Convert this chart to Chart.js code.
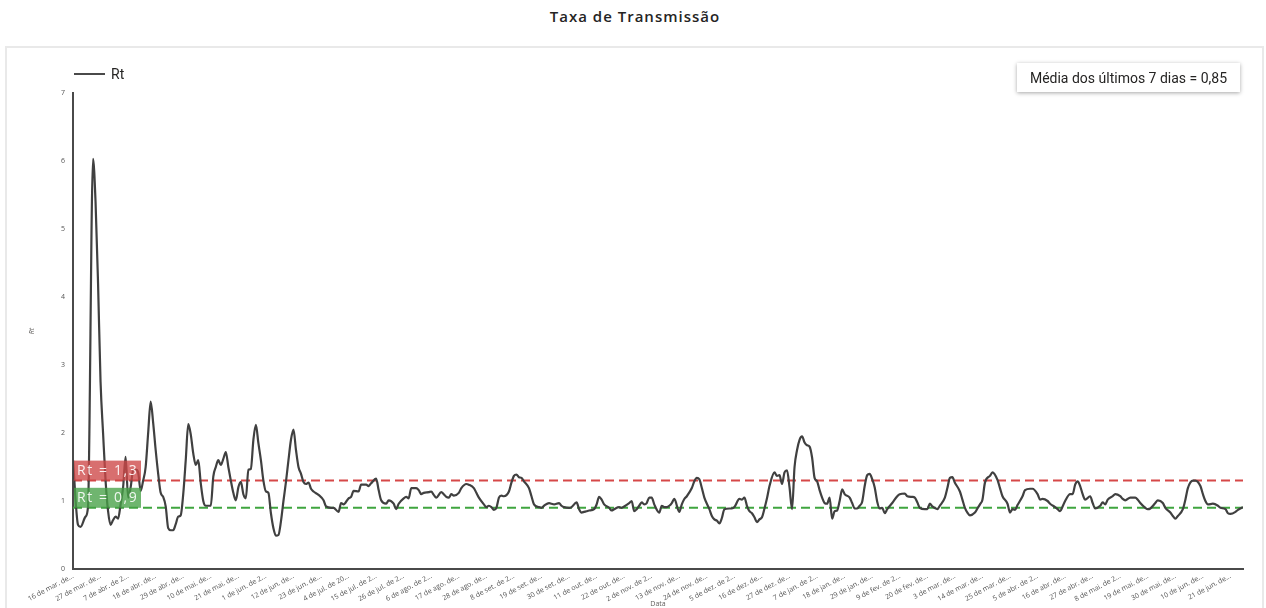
<!DOCTYPE html>
<html>
<head>
<meta charset="utf-8">
<script src="https://cdn.jsdelivr.net/npm/chart.js@4.4.1/dist/chart.umd.min.js"></script>
<style>
  html, body { margin: 0; padding: 0; background: #ffffff; }
  body { width: 1266px; height: 608px; position: relative; overflow: hidden; font-family: "Open Sans", "Noto Sans", sans-serif; }
  #title { position: absolute; left: 0; top: 6px; width: 1270px; text-align: center; font-size: 15px; font-weight: 600; color: #252423; letter-spacing: 1px; }
  #panel { position: absolute; left: 5px; top: 46px; width: 1259px; height: 600px; border: 2px solid #e9e9e9; box-sizing: border-box; }
  #wrap { position: absolute; left: 0; top: 0; width: 1266px; height: 608px; }
  #legend { position: absolute; left: 74px; top: 64px; height: 20px; display: flex; align-items: center; font-size: 14px; color: #252423; font-family: Roboto, "Open Sans", sans-serif; }
  #legend .sw { width: 31px; height: 0; border-top: 2.5px solid #4a4a4a; margin-right: 6px; }
  #media { position: absolute; left: 1017px; top: 63px; width: 223px; height: 29px; background: #fff; box-shadow: 0 1px 4px rgba(0,0,0,0.35); display: flex; align-items: center; justify-content: center; font-size: 14px; color: #252423; font-family: Roboto, "Open Sans", sans-serif; }
</style>
</head>
<body>
<div id="title">Taxa de Transmissão</div>
<div id="panel"></div>
<div id="wrap"><canvas id="c" width="1266" height="608"></canvas></div>
<div id="legend"><span class="sw"></span><span>Rt</span></div>
<div id="media">Média dos últimos 7 dias = 0,85</div>
<script>
// ---- data (day index from 16 de mar. de 2020) ----
const days = [0,2,3,5,6,8,9,10,11,12,13,14,15,16,17,18,19,20,21,22,23,24,25,26,27,28,29,30,31,32,33,34,35,36,37,38,39,40,41,42,43,44,45,46,47,48,49,50,51,52,53,54,55,56,57,58,59,60,61,62,63,64,65,66,67,68,69,70,71,72,73,74,75,76,77,78,79,80,81,82,83,84,85,86,87,88,89,90,91,92,93,94,95,96,98,100,101,103,104,106,107,108,110,111,112,114,115,117,118,119,121,122,123,125,126,128,129,130,132,133,134,135,137,138,139,140,142,143,144,145,147,148,149,150,151,152,154,155,157,158,160,161,162,164,165,166,167,168,169,170,171,172,174,175,176,177,178,179,180,182,183,184,186,187,188,190,191,192,194,195,196,198,199,201,202,203,204,205,206,208,209,210,211,212,214,215,216,218,219,220,222,223,224,225,226,227,228,229,230,231,232,234,235,236,237,238,239,240,242,243,244,245,247,248,249,250,251,252,254,255,256,257,258,259,260,262,263,264,266,267,268,269,270,271,272,273,274,275,276,277,278,280,281,282,283,284,285,286,287,288,289,290,291,292,293,294,295,296,297,298,299,300,301,302,303,304,305,306,307,308,310,311,312,313,314,315,316,317,318,319,320,321,322,323,324,325,327,329,330,332,333,335,336,337,338,340,341,342,343,345,346,348,349,350,351,352,354,355,356,357,358,360,361,362,363,364,366,367,369,370,371,373,374,375,376,377,379,380,382,383,385,386,387,389,390,392,393,394,395,396,398,399,400,401,402,403,404,406,407,408,410,411,412,413,415,416,418,419,420,422,424,425,426,428,429,430,432,433,435,436,438,439,440,441,443,444,445,447,448,450,451,452,453,455,457,458,460,461,462,464,465,467];
const rtValues = [1.60,0.65,0.62,0.77,0.92,6.03,5.40,4.20,2.75,2.00,1.30,0.85,0.65,0.72,0.77,0.74,0.95,1.20,1.65,1.05,1.20,1.45,1.46,1.42,1.15,1.30,1.50,2.00,2.46,2.15,1.75,1.40,1.12,1.06,0.92,0.60,0.57,0.57,0.66,0.77,0.79,1.10,1.60,2.13,1.98,1.70,1.53,1.60,1.26,1.00,0.93,0.93,0.93,1.36,1.50,1.60,1.53,1.62,1.72,1.50,1.30,1.12,1.01,1.20,1.28,1.10,1.04,1.46,1.47,1.90,2.12,1.85,1.60,1.30,1.14,1.12,0.82,0.60,0.49,0.50,0.70,1.00,1.28,1.60,1.90,2.05,1.75,1.50,1.40,1.28,1.25,1.27,1.18,1.14,1.09,1.01,0.92,0.90,0.90,0.84,0.97,0.95,1.04,1.06,1.15,1.14,1.24,1.24,1.22,1.26,1.33,1.16,1.01,0.96,1.01,0.96,0.88,0.96,1.04,1.06,1.04,1.19,1.19,1.16,1.10,1.12,1.13,1.14,1.09,1.05,1.13,1.10,1.06,1.05,1.10,1.08,1.12,1.19,1.25,1.24,1.19,1.12,1.05,0.95,0.91,0.93,0.91,0.87,0.90,1.05,1.08,1.07,1.14,1.27,1.37,1.39,1.35,1.34,1.29,1.19,1.07,0.95,0.91,0.90,0.93,0.97,0.96,0.95,0.97,0.93,0.91,0.90,0.91,0.98,0.88,0.83,0.84,0.85,0.86,0.88,0.95,1.06,1.02,0.95,0.90,0.86,0.88,0.91,0.90,0.92,0.97,1.00,0.85,0.88,0.93,0.98,0.95,0.97,1.05,1.05,0.95,0.83,0.93,0.91,0.91,0.93,0.97,1.03,0.84,0.95,1.03,1.07,1.19,1.29,1.34,1.32,1.19,1.05,0.88,0.78,0.73,0.71,0.67,0.75,0.88,0.89,0.89,0.91,1.03,1.02,1.05,0.93,0.85,0.82,0.76,0.69,0.73,0.76,0.89,1.04,1.22,1.42,1.37,1.38,1.25,1.42,1.45,1.20,0.88,1.50,1.75,1.90,1.95,1.86,1.82,1.80,1.64,1.34,1.29,1.16,1.05,0.97,0.96,1.05,0.74,0.85,0.86,1.00,1.17,1.10,1.05,0.97,0.89,0.89,0.93,0.99,1.22,1.38,1.40,1.32,1.20,0.99,0.89,0.90,0.82,0.88,0.97,1.07,1.10,1.11,1.07,1.06,1.05,0.98,0.90,0.88,0.88,0.96,0.92,0.88,0.93,1.05,1.19,1.34,1.35,1.27,1.14,1.02,0.90,0.83,0.79,0.83,0.89,0.95,1.02,1.27,1.37,1.42,1.31,1.19,1.07,0.96,0.83,0.88,0.87,0.94,1.07,1.16,1.18,1.18,1.10,1.02,1.03,1.00,0.96,0.91,0.88,0.85,0.92,1.00,1.10,1.10,1.24,1.29,1.22,1.10,1.02,1.07,0.97,0.89,0.93,0.98,0.95,1.02,1.07,1.10,1.07,1.03,1.01,1.05,1.05,1.02,0.97,0.90,0.88,0.89,0.97,1.01,0.97,0.90,0.83,0.78,0.74,0.78,0.88,1.02,1.19,1.30,1.30,1.22,1.10,1.00,0.95,0.96,0.93,0.90,0.88,0.82,0.81,0.84,0.87,0.91];
const tickStep = 11;
const lastDay = 467;
const tickLabels = ["16 de mar. de…","27 de mar. de…","7 de abr. de 2…","18 de abr. de…","29 de abr. de…","10 de mai. de…","21 de mai. de…","1 de jun. de 2…","12 de jun. de…","23 de jun. de…","4 de jul. de 20…","15 de jul. de 2…","26 de jul. de 2…","6 de ago. de 2…","17 de ago. de…","28 de ago. de…","8 de set. de 2…","19 de set. de…","30 de set. de…","11 de out. de…","22 de out. de…","2 de nov. de 2…","13 de nov. de…","24 de nov. de…","5 de dez. de 2…","16 de dez. de…","27 de dez. de…","7 de jan. de 2…","18 de jan. de…","29 de jan. de…","9 de fev. de 2…","20 de fev. de…","3 de mar. de…","14 de mar. de…","25 de mar. de…","5 de abr. de 2…","16 de abr. de…","27 de abr. de…","8 de mai. de 2…","19 de mai. de…","30 de mai. de…","10 de jun. de…","21 de jun. de…"];
const refLevels = [1.3, 0.9];
const refLabels = ["Rt = 1,3", "Rt = 0,9"];

// ---- styling ----
const refLineColors = ["#d64848", "#3fa53f"];
const refBoxColors = ["rgba(205,70,70,0.78)", "rgba(70,160,70,0.78)"];

const refLabelPlugin = {
  id: 'refLabels',
  afterDatasetsDraw(chart) {
    const {ctx, chartArea, scales} = chart;
    ctx.save();
    refLevels.forEach((lvl, i) => {
      const y = scales.y.getPixelForValue(lvl);
      const x = chartArea.left + 1;
      ctx.fillStyle = refBoxColors[i];
      ctx.fillRect(x, y - 20, 67, 20);
      ctx.fillStyle = 'rgba(255,255,255,0.9)';
      ctx.font = '14px "Open Sans", sans-serif';
      if ('letterSpacing' in ctx) ctx.letterSpacing = '1.6px';
      ctx.textBaseline = 'middle';
      ctx.textAlign = 'left';
      ctx.fillText(refLabels[i], x + 3, y - 9.5);
    });
    ctx.restore();
  }
};

const refDatasets = refLevels.map((lvl, i) => ({
  label: refLabels[i],
  data: [{x: 0, y: lvl}, {x: lastDay, y: lvl}],
  borderColor: refLineColors[i],
  borderWidth: 2,
  borderDash: [9, 5],
  pointRadius: 0,
  fill: false,
  order: 2
}));

new Chart(document.getElementById('c'), {
  type: 'line',
  data: {
    datasets: [
      ...refDatasets,
      {
        label: 'Rt',
        data: days.map((d, i) => ({x: d, y: rtValues[i]})),
        borderColor: '#404040',
        borderWidth: 2.2,
        pointRadius: 0,
        cubicInterpolationMode: 'monotone',
        fill: false,
        order: 1
      }
    ]
  },
  options: {
    responsive: false,
    animation: false,
    layout: { padding: { top: 93, right: 23, left: 0, bottom: 0 } },
    plugins: { legend: { display: false }, tooltip: { enabled: false }, title: { display: false } },
    scales: {
      x: {
        type: 'linear',
        min: 0,
        max: lastDay,
        afterFit(scale) { scale.height = 39; },
        grid: { display: false, drawTicks: false },
        border: { display: true, color: '#4a4a4a', width: 2 },
        ticks: {
          stepSize: tickStep,
          includeBounds: false,
          autoSkip: false,
          minRotation: 28,
          maxRotation: 28,
          padding: 3,
          color: '#555555',
          font: { size: 7, family: '"Open Sans", sans-serif' },
          callback(value) {
            const idx = Math.round(value / tickStep);
            return (Math.abs(value - idx * tickStep) < 1e-6 && tickLabels[idx]) ? tickLabels[idx] : '';
          }
        },
        title: { display: true, text: 'Data', color: '#605e5c', font: { size: 7, family: '"Open Sans", sans-serif' }, padding: 0 }
      },
      y: {
        min: 0,
        max: 7,
        afterFit(scale) { scale.width = 73; },
        grid: { display: false, drawTicks: false },
        border: { display: true, color: '#4a4a4a', width: 2 },
        ticks: {
          stepSize: 1,
          padding: 8,
          color: '#555555',
          font: { size: 7, family: '"Open Sans", sans-serif' }
        },
        title: { display: true, text: 'Rt', color: '#605e5c', font: { size: 7, style: 'italic', family: '"Open Sans", sans-serif' }, padding: { top: 28, bottom: 0 } }
      }
    }
  },
  plugins: [refLabelPlugin]
});
</script>
</body>
</html>
